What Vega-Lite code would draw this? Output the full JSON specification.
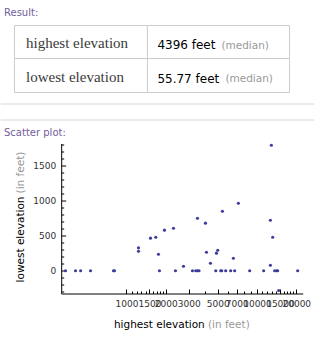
{
  "$schema": "https://vega.github.io/schema/vega-lite/v6.json",
  "padding": {"left": 0, "top": 7, "right": 0, "bottom": 0},
  "background": "white",
  "config": {"view": {"stroke": null}, "font": "DejaVu Sans"},
  "columns": 1,
  "spacing": 6.5,
  "concat": [
    {
      "columns": 1,
      "spacing": 10,
      "concat": [
        {
          "width": 275,
          "height": 67,
          "view": {"stroke": "#cccccc", "strokeWidth": 1},
          "title": {"text": "Result:", "anchor": "start", "frame": "group", "dx": -10, "fontSize": 10, "font": "DejaVu Sans", "fontWeight": "normal", "color": "#72609e", "offset": 7},
          "data": {"values": [
            {"attribute": "highest elevation", "value": "4396 feet", "note": "(median)"},
            {"attribute": "lowest elevation", "value": "55.77 feet", "note": "(median)"}
          ]},
          "layer": [
            {
              "transform": [{"filter": "datum.attribute === 'lowest elevation'"}],
              "mark": {"type": "rule", "color": "#cccccc"},
              "encoding": {"y": {"field": "attribute", "type": "nominal", "bandPosition": 0, "axis": null, "scale": {"domain": ["highest elevation", "lowest elevation"], "paddingInner": 0, "paddingOuter": 0}}}
            },
            {
              "transform": [{"filter": "datum.attribute === 'lowest elevation'"}],
              "mark": {"type": "rule", "color": "#cccccc"},
              "encoding": {"x": {"datum": "value", "type": "nominal", "bandPosition": 0, "axis": null, "scale": {"domain": ["name", "value"], "paddingInner": 0, "paddingOuter": 0.0307, "align": 0}}}
            },
            {
              "mark": {"type": "text", "align": "left", "baseline": "alphabetic", "dx": 12, "dy": 6.5, "font": "Liberation Serif", "fontSize": 15, "color": "#3a3a3a"},
              "encoding": {
                "x": {"datum": "name", "type": "nominal", "bandPosition": 0},
                "y": {"field": "attribute", "type": "nominal"},
                "text": {"field": "attribute"}
              }
            },
            {
              "mark": {"type": "text", "align": "left", "baseline": "alphabetic", "dx": 10, "dy": 7.7, "font": "DejaVu Sans", "fontSize": 12, "color": "#000000"},
              "encoding": {
                "x": {"datum": "value", "type": "nominal", "bandPosition": 0},
                "y": {"field": "attribute", "type": "nominal"},
                "text": {"field": "value"}
              }
            },
            {
              "transform": [{"filter": "datum.attribute === 'highest elevation'"}],
              "mark": {"type": "text", "align": "left", "baseline": "alphabetic", "dx": 74, "dy": 6.8, "font": "DejaVu Sans", "fontSize": 10.5, "color": "#999999"},
              "encoding": {
                "x": {"datum": "value", "type": "nominal", "bandPosition": 0},
                "y": {"field": "attribute", "type": "nominal"},
                "text": {"field": "note"}
              }
            },
            {
              "transform": [{"filter": "datum.attribute === 'lowest elevation'"}],
              "mark": {"type": "text", "align": "left", "baseline": "alphabetic", "dx": 78, "dy": 6.8, "font": "DejaVu Sans", "fontSize": 10.5, "color": "#999999"},
              "encoding": {
                "x": {"datum": "value", "type": "nominal", "bandPosition": 0},
                "y": {"field": "attribute", "type": "nominal"},
                "text": {"field": "note"}
              }
            }
          ]
        },
        {
          "width": 300.7,
          "height": 16,
          "data": {"values": [{"separator": "top"}, {"separator": "bottom"}]},
          "mark": {"type": "rule", "color": "#d6d6d6"},
          "encoding": {
            "y": {"field": "separator", "type": "nominal", "axis": null, "scale": {"type": "point", "padding": 0, "domain": ["top", "bottom"]}},
            "x": {"datum": 0, "type": "quantitative", "axis": null, "scale": {"domain": [0, 1], "range": [-13.3, 300.7], "nice": false, "zero": false}},
            "x2": {"datum": 1}
          }
        }
      ]
    },
    {
      "width": 288.7,
      "height": 150,
      "title": {"text": "Scatter plot:", "anchor": "start", "frame": "group", "dx": -10, "fontSize": 10, "font": "DejaVu Sans", "fontWeight": "normal", "color": "#72609e", "offset": 6},
      "data": {"values": [
        {"highest": 341, "lowest": 0}, {"highest": 407, "lowest": 0}, {"highest": 445, "lowest": 0}, {"highest": 530, "lowest": 0},
        {"highest": 795, "lowest": 0}, {"highest": 809, "lowest": 0}, {"highest": 1236, "lowest": 327}, {"highest": 1236, "lowest": 278},
        {"highest": 1527, "lowest": 464}, {"highest": 1676, "lowest": 478}, {"highest": 1758, "lowest": 235}, {"highest": 1789, "lowest": 0},
        {"highest": 1954, "lowest": 578}, {"highest": 2291, "lowest": 606}, {"highest": 2373, "lowest": 0}, {"highest": 2733, "lowest": 64},
        {"highest": 3202, "lowest": 0}, {"highest": 3394, "lowest": 0}, {"highest": 3497, "lowest": 0}, {"highest": 3497, "lowest": 749},
        {"highest": 3597, "lowest": 0}, {"highest": 4027, "lowest": 678}, {"highest": 4099, "lowest": 264}, {"highest": 4398, "lowest": 107},
        {"highest": 4829, "lowest": 0}, {"highest": 4889, "lowest": 250}, {"highest": 5002, "lowest": 292}, {"highest": 5274, "lowest": 0},
        {"highest": 5367, "lowest": 0}, {"highest": 5434, "lowest": 849}, {"highest": 5758, "lowest": 0}, {"highest": 6289, "lowest": 0},
        {"highest": 6596, "lowest": 178}, {"highest": 6748, "lowest": 0}, {"highest": 7203, "lowest": 963}, {"highest": 8794, "lowest": 0},
        {"highest": 11250, "lowest": 0}, {"highest": 12664, "lowest": 720}, {"highest": 12664, "lowest": 78}, {"highest": 12890, "lowest": 1790},
        {"highest": 13190, "lowest": 478}, {"highest": 13660, "lowest": 0}, {"highest": 14150, "lowest": 0}, {"highest": 14400, "lowest": 0},
        {"highest": 14660, "lowest": -282}, {"highest": 20500, "lowest": 0}
      ]},
      "layer": [
        {
          "mark": {"type": "circle", "size": 10, "color": "#3d3d99", "opacity": 1},
          "encoding": {
            "x": {"field": "highest", "type": "quantitative",
              "scale": {"type": "log", "domain": [316, 22400], "range": [47.2, 288.7], "nice": false},
              "axis": {"values": [1000, 1500, 2000, 3000, 5000, 7000, 10000, 15000, 20000], "format": "d", "labelOverlap": false, "labelFlush": false, "labelBound": false,
                "labelFont": "DejaVu Sans", "labelFontSize": 9, "labelColor": "#333333", "labelPadding": 10, "tickSize": -4.5, "tickColor": "#000000", "domainColor": "#000000", "grid": false,
                "title": "highest elevation", "titleFont": "DejaVu Sans", "titleFontSize": 10.5, "titleFontWeight": "normal", "titleColor": "#000000", "titleAlign": "left", "titleBaseline": "alphabetic", "titleX": 99.4, "titleY": 34}},
            "y": {"field": "lowest", "type": "quantitative",
              "scale": {"domain": [-325, 1815], "nice": false, "zero": false},
              "axis": {"offset": -47.2, "values": [0, 500, 1000, 1500], "format": "d", "labelFont": "DejaVu Sans", "labelFontSize": 9, "labelColor": "#333333", "labelPadding": 10, "tickSize": -4.5, "tickColor": "#000000", "domainColor": "#000000", "grid": false,
                "title": "lowest elevation", "titleFont": "DejaVu Sans", "titleFontSize": 10.5, "titleFontWeight": "normal", "titleColor": "#000000", "titleAngle": -90, "titleAlign": "left", "titleBaseline": "alphabetic", "titleX": -38, "titleY": 138.4}}
          }
        },
        {
          "mark": {"type": "circle", "size": 1, "opacity": 0},
          "encoding": {
            "x": {"field": "highest", "type": "quantitative",
              "axis": {"orient": "bottom", "values": [1100, 1200, 1300, 1400, 1600, 1700, 1800, 1900, 4000, 6000, 8000, 9000, 11000, 12000, 13000, 14000, 16000, 17000, 18000, 19000], "labels": false, "domain": false, "tickSize": -2.5, "tickColor": "#000000", "grid": false,
                "title": "(in feet)", "titleFont": "DejaVu Sans", "titleFontSize": 10.5, "titleFontWeight": "normal", "titleColor": "#999999", "titleAlign": "left", "titleBaseline": "alphabetic", "titleX": 193.4, "titleY": 34}},
            "y": {"field": "lowest", "type": "quantitative",
              "axis": {"orient": "left", "offset": -47.2, "values": [-300, -200, -100, 100, 200, 300, 400, 600, 700, 800, 900, 1100, 1200, 1300, 1400, 1600, 1700, 1800], "labels": false, "domain": false, "tickSize": -2.5, "tickColor": "#000000", "grid": false,
                "title": "(in feet)", "titleFont": "DejaVu Sans", "titleFontSize": 10.5, "titleFontWeight": "normal", "titleColor": "#999999", "titleAngle": -90, "titleAlign": "left", "titleBaseline": "alphabetic", "titleX": -38, "titleY": 49.4}}
          }
        }
      ],
      "resolve": {"axis": {"x": "independent", "y": "independent"}}
    }
  ]
}
